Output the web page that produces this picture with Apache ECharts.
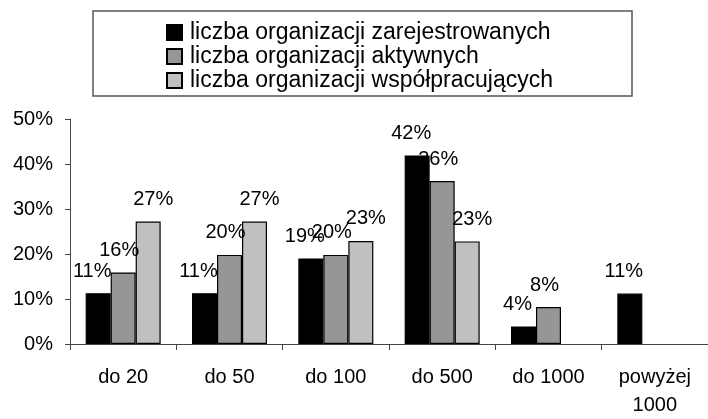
<!DOCTYPE html>
<html lang="pl">
  <head>
    <meta charset="UTF-8" />
    <title>Organizacje</title>
    <style>
      html, body { margin: 0; padding: 0; background: #fff; }
      #chart { width: 708px; height: 419px; }
    </style>
  </head>
  <body>
    <div id="chart"></div>
    <script src="https://cdn.jsdelivr.net/npm/echarts@6/dist/echarts.min.js"></script>
    <script>
      // kategorie (wielkość organizacji)
      var categories = ["do 20", "do 50", "do 100", "do 500", "do 1000", "powyżej\n1000"];
      var seriesNames = [
        "liczba organizacji zarejestrowanych",
        "liczba organizacji aktywnych",
        "liczba organizacji współpracujących"
      ];
      // wartości w %
      var zarejestrowane = [11.3, 11.3, 19, 41.9, 3.9, 11.2];
      var aktywne = [15.9, 19.8, 19.8, 36.2, 8.2, null];
      var wspolpracujace = [27.2, 27.2, 22.9, 22.8, null, null];
      var yTicks = [0, 10, 20, 30, 40, 50];

      var font = 'Arial, "Liberation Sans", sans-serif';
      var myChart = echarts.init(document.getElementById("chart"));

      function barSeries(name, data, color, dx) {
        return {
          name: name,
          type: "bar",
          data: data,
          barWidth: 25,
          barGap: "0%",
          itemStyle: { color: color, borderColor: "#000", borderWidth: 1.2 },
          label: {
            show: true,
            position: "top",
            distance: 12,
            offset: [dx, 0],
            color: "#000",
            fontFamily: font,
            fontSize: 20,
            formatter: function (p) {
              return Math.round(p.value) + "%";
            }
          }
        };
      }

      var option = {
        animation: false,
        backgroundColor: "#fff",
        // ramka legendy
        graphic: [
          {
            type: "rect",
            shape: { x: 93, y: 11, width: 539, height: 85 },
            style: { fill: "none", stroke: "#555", lineWidth: 1.5 }
          }
        ],
        legend: {
          left: 161,
          top: 16,
          orient: "vertical",
          icon: "rect",
          itemWidth: 15,
          itemHeight: 15,
          itemGap: 1,
          data: seriesNames,
          textStyle: { color: "#000", fontFamily: font, fontSize: 23, lineHeight: 23, padding: [0, 0, 0, 3] }
        },
        grid: { left: 70, right: 0, top: 119, bottom: 68 },
        xAxis: {
          type: "category",
          data: categories,
          axisLine: { lineStyle: { color: "#444", width: 1 } },
          axisTick: { show: true, length: 6, lineStyle: { color: "#444" } },
          axisLabel: {
            color: "#000",
            fontFamily: font,
            fontSize: 20,
            margin: 19,
            lineHeight: 28,
            interval: 0
          }
        },
        yAxis: {
          type: "value",
          min: yTicks[0],
          max: yTicks[yTicks.length - 1],
          interval: 10,
          axisLine: { show: true, lineStyle: { color: "#444", width: 1 } },
          axisTick: { show: true, length: 5, lineStyle: { color: "#444" } },
          splitLine: { show: false },
          axisLabel: {
            color: "#000",
            fontFamily: font,
            fontSize: 20,
            margin: 17,
            formatter: "{value}%"
          }
        },
        series: [
          barSeries(seriesNames[0], zarejestrowane, "#000000", -6),
          barSeries(seriesNames[1], aktywne, "#969696", -4),
          barSeries(seriesNames[2], wspolpracujace, "#c0c0c0", 5)
        ]
      };

      myChart.setOption(option);
      window.onresize = function () {
        myChart.resize();
      };
    </script>
  </body>
</html>
